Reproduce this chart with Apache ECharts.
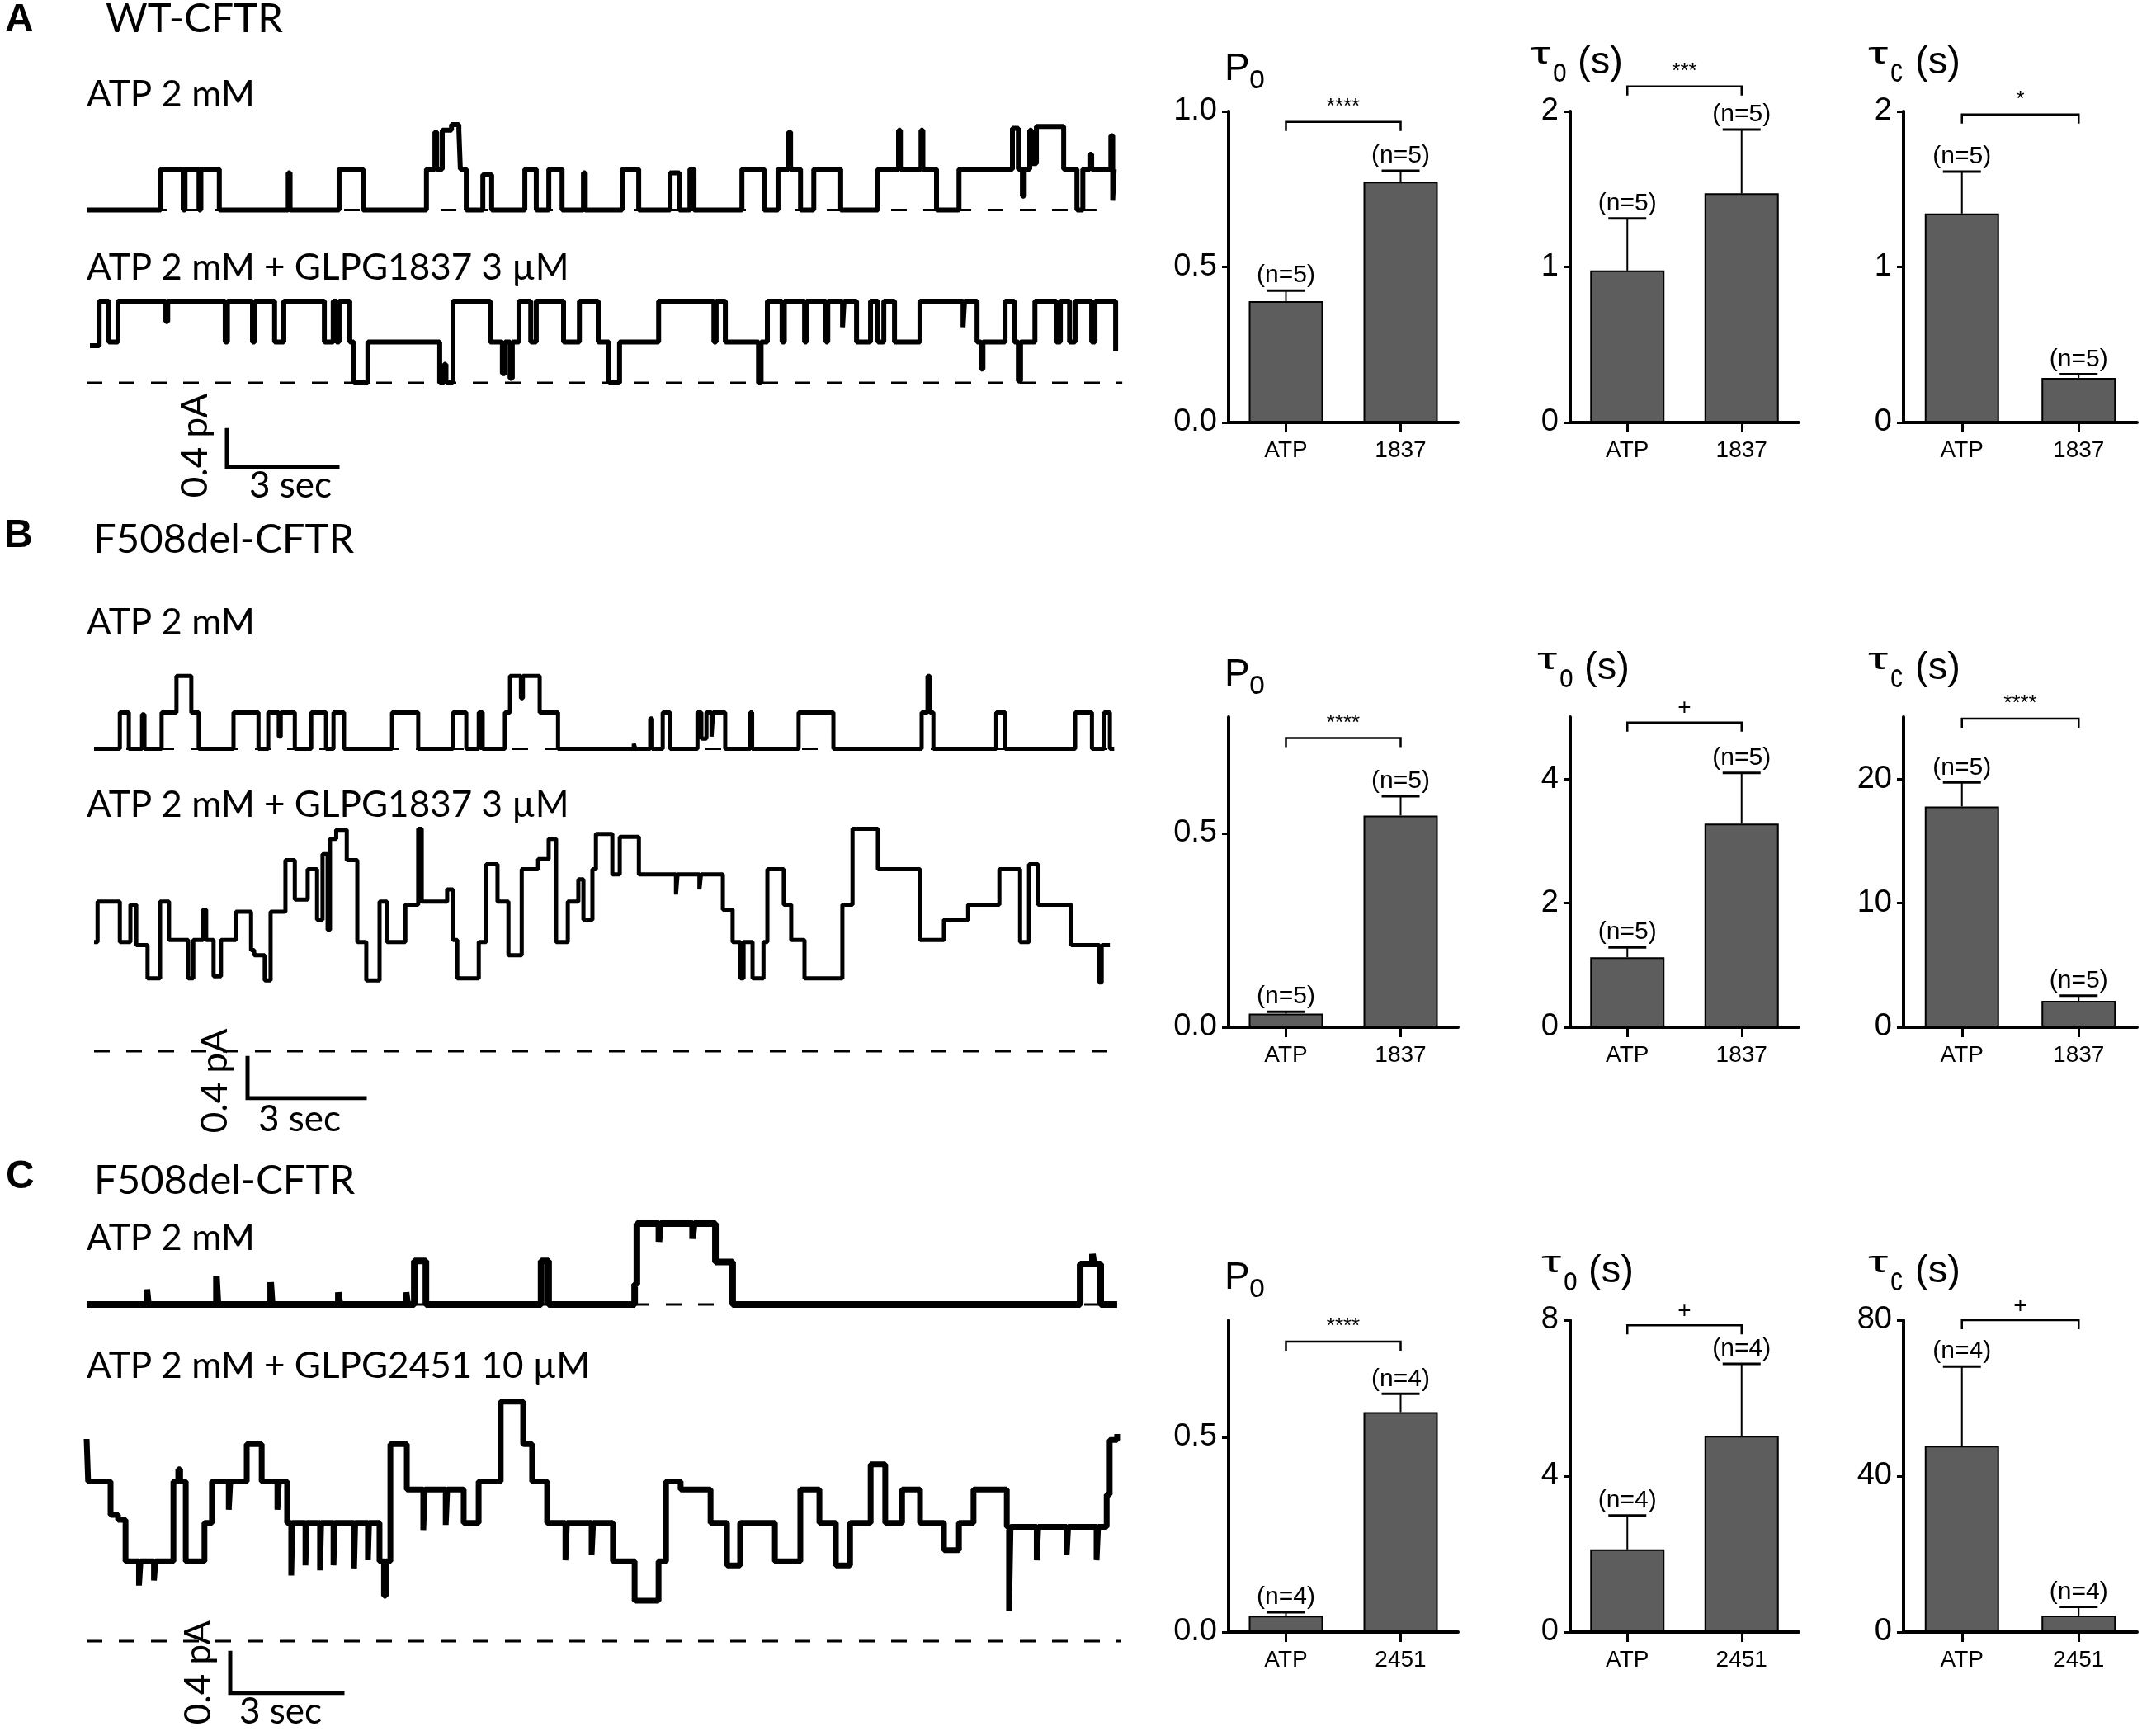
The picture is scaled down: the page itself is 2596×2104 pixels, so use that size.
<!DOCTYPE html>
<html><head><meta charset="utf-8">
<script src="https://cdn.jsdelivr.net/npm/echarts@6/dist/echarts.min.js"></script>
<style>html,body{margin:0;padding:0;background:#fff}#c{width:2596px;height:2104px}</style>
</head><body><div id="c"></div>
<script>
// ================= DATA =================
// Bar charts: categories
const catsA = ['ATP', '1837'];
const catsB = ['ATP', '1837'];
const catsC = ['ATP', '2451'];
// Row A (WT-CFTR)
const poA_mean = [0.390, 0.774], poA_err = [0.034, 0.035], nA = [5, 5];
const toA_mean = [0.977, 1.473], toA_err = [0.335, 0.410];
const tcA_mean = [1.343, 0.287], tcA_err = [0.270, 0.023];
// Row B (F508del, GLPG1837)
const poB_mean = [0.035, 0.546], poB_err = [0.005, 0.050], nB = [5, 5];
const toB_mean = [1.128, 3.280], toB_err = [0.160, 0.820];
const tcB_mean = [17.79, 2.12], tcB_err = [1.94, 0.43];
// Row C (F508del, GLPG2451)
const poC_mean = [0.042, 0.564], poC_err = [0.009, 0.047], nC = [4, 4];
const toC_mean = [2.12, 5.03], toC_err = [0.87, 1.85];
const tcC_mean = [47.8, 4.25], tcC_err = [20.3, 2.2];
// Significance marks and bracket levels (axis units)
const sigA = ['****', '***', '*'],  bracketA = [0.966, 2.16, 1.98];
const sigB = ['****', '+', '****'], bracketB = [0.746, 4.91, 24.86];
const sigC = ['****', '+', '+'],    bracketC = [0.745, 7.87, 80];
// Axis maxima and tick labels
const axMaxA = [1.0, 2, 2],  ticksA = [[0, 0.5, 1.0], [0, 1, 2], [0, 1, 2]];
const axMaxB = [0.8, 5, 25], ticksB = [[0, 0.5], [0, 2, 4], [0, 10, 20]];
const axMaxC = [0.8, 8, 80], ticksC = [[0, 0.5], [0, 4, 8], [0, 40, 80]];

// Current traces: [time (s), current above closed level (pA)], step changes
const traceA1 = [[0,0],[2.01,0.44],[2.62,0],[2.67,0.44],[3.05,0],[3.10,0.44],[3.60,0],[5.47,0.40],[5.52,0],[6.85,0.44],[7.50,0],[9.22,0.44],[9.45,0.84],[9.50,0.44],[9.65,0.86],[9.90,0.92],[10.10,0.86],[10.14,0.44],[10.30,0],[10.75,0.38],[10.99,0],[11.89,0.44],[12.20,0],[12.54,0.44],[12.90,0],[13.48,0.40],[13.53,0],[14.53,0.44],[14.98,0],[15.83,0.40],[16.08,0],[16.37,0.44],[16.48,0],[17.78,0.44],[18.38,0],[18.76,0.44],[19.05,0.84],[19.10,0.44],[19.37,0],[19.73,0.44],[20.46,0],[21.47,0.44],[22.03,0.86],[22.08,0.44],[22.64,0.86],[22.69,0.44],[23.06,0],[23.67,0.44],[25.12,0.88],[25.28,0.44],[25.39,0.15],[25.44,0.44],[25.59,0.86],[25.64,0.50],[25.77,0.90],[26.51,0.44],[26.87,0],[27.03,0.44],[27.22,0.60],[27.27,0.44],[27.79,0.80],[27.84,0.10],[27.88,0.44]];
const traceA2 = [[0.09,0.40],[0.34,0.88],[0.60,0.44],[0.85,0.88],[2.15,0.66],[2.20,0.88],[3.76,0.44],[3.82,0.88],[4.50,0.44],[4.56,0.88],[5.10,0.44],[5.35,0.88],[6.45,0.44],[6.69,0.88],[6.78,0.44],[6.85,0.88],[7.14,0.44],[7.25,0],[7.63,0.44],[9.58,0],[9.70,0.20],[9.75,0],[9.94,0.88],[10.95,0.44],[11.28,0.10],[11.35,0.44],[11.49,0.05],[11.55,0.44],[11.73,0.88],[12.05,0.44],[12.20,0.88],[12.94,0.44],[13.37,0.88],[13.88,0.44],[14.17,0],[14.46,0.44],[15.52,0.88],[17.02,0.44],[17.08,0.88],[17.33,0.44],[18.23,0],[18.30,0.44],[18.47,0.88],[18.87,0.44],[18.93,0.88],[19.48,0.44],[19.53,0.88],[20.06,0.44],[20.11,0.88],[20.51,0.60],[20.55,0.88],[20.89,0.44],[21.27,0.88],[21.47,0.44],[21.63,0.88],[21.92,0.44],[22.61,0.88],[23.78,0.60],[23.82,0.88],[24.16,0.44],[24.27,0.15],[24.32,0.44],[24.92,0.88],[25.17,0.44],[25.28,0.02],[25.34,0.44],[25.73,0.88],[26.31,0.44],[26.42,0.88],[26.67,0.44],[26.82,0.88],[27.27,0.44],[27.36,0.88],[27.92,0.34]];
const traceB1 = [[0,0],[0.66,0.36],[0.89,0],[1.23,0.34],[1.29,0],[1.73,0.36],[2.11,0.72],[2.49,0.36],[2.68,0],[3.57,0.36],[4.21,0],[4.46,0.36],[4.73,0.12],[4.78,0.36],[5.14,0],[5.56,0.36],[5.94,0],[6.13,0.36],[6.40,0],[7.63,0.36],[8.30,0],[9.19,0.36],[9.53,0],[9.85,0.36],[9.95,0],[10.52,0.36],[10.65,0.72],[10.93,0.50],[10.98,0.72],[11.41,0.36],[11.88,0],[13.82,0.05],[13.86,0],[14.24,0.30],[14.29,0],[14.56,0.36],[14.75,0],[15.45,0.36],[15.55,0.10],[15.68,0.36],[15.81,0.12],[15.85,0.36],[16.16,0],[16.80,0.36],[16.85,0],[18.04,0.36],[18.93,0],[21.19,0.36],[21.34,0.72],[21.40,0.36],[21.49,0],[23.10,0.36],[23.33,0],[25.12,0.36],[25.55,0],[25.86,0.36],[26.01,0],[26.12,0]];
const traceB2 = [[0,1.08],[0.09,1.48],[0.66,1.08],[0.93,1.45],[1.08,1.05],[1.37,0.72],[1.69,1.48],[1.92,1.10],[2.41,0.72],[2.54,1.10],[2.79,1.40],[2.87,1.10],[3.06,0.74],[3.25,1.10],[3.63,1.38],[4.02,1.00],[4.10,0.95],[4.37,0.70],[4.52,1.38],[4.90,1.89],[5.14,1.50],[5.47,1.80],[5.71,1.30],[5.85,1.95],[5.98,1.20],[6.04,2.10],[6.20,2.19],[6.47,1.89],[6.74,1.08],[6.97,0.70],[7.31,1.48],[7.50,1.08],[7.97,1.45],[8.30,2.20],[8.39,1.48],[9.04,1.60],[9.19,1.10],[9.30,0.72],[9.85,1.08],[10.04,1.85],[10.33,1.48],[10.61,0.95],[10.95,1.80],[11.37,1.90],[11.64,2.10],[11.83,1.08],[12.13,1.48],[12.40,1.70],[12.53,1.30],[12.76,1.80],[12.85,2.15],[13.27,1.75],[13.46,2.12],[13.95,1.75],[14.90,1.55],[14.94,1.75],[15.50,1.60],[15.54,1.75],[16.10,1.40],[16.35,1.08],[16.55,0.72],[16.63,1.08],[16.86,0.72],[17.14,1.08],[17.24,1.80],[17.66,1.45],[17.85,1.10],[18.19,0.72],[19.16,1.45],[19.42,2.20],[20.07,1.80],[21.15,1.10],[21.76,1.30],[22.38,1.45],[23.18,1.80],[23.71,1.08],[23.94,1.85],[24.17,1.45],[25.02,1.05],[25.74,0.68],[25.80,1.05],[26.01,1.05]];
const traceC1 = [[0,0],[1.61,0.15],[1.65,0],[3.47,0.28],[3.51,0],[4.92,0.22],[4.96,0],[6.73,0.12],[6.77,0],[8.54,0.12],[8.58,0],[8.76,0.43],[9.07,0],[12.15,0.43],[12.35,0],[14.65,0.20],[14.71,0.80],[15.30,0.62],[15.34,0.80],[16.20,0.65],[16.24,0.80],[16.81,0.42],[17.27,0],[26.56,0.40],[26.89,0.50],[26.93,0.40],[27.11,0],[27.55,0]];
const traceC2 = [[0,2.00],[0.04,1.58],[0.64,1.25],[0.84,1.20],[1.04,0.79],[1.40,0.55],[1.44,0.79],[1.80,0.60],[1.84,0.79],[2.27,0.79],[2.32,1.58],[2.45,1.70],[2.50,1.58],[2.65,0.79],[3.15,1.17],[3.35,1.58],[3.80,1.30],[3.84,1.58],[4.28,1.95],[4.68,1.58],[5.10,1.30],[5.14,1.58],[5.36,1.17],[5.47,0.65],[5.50,1.17],[5.85,0.75],[5.88,1.17],[6.24,0.70],[6.27,1.17],[6.60,0.75],[6.63,1.17],[7.15,0.72],[7.18,1.17],[7.52,0.80],[7.55,1.17],[7.83,0.79],[7.95,0.45],[8.00,0.79],[8.12,1.95],[8.56,1.50],[9.00,1.10],[9.04,1.50],[9.60,1.15],[9.64,1.50],[10.08,1.17],[10.48,1.58],[11.07,2.37],[11.67,1.95],[11.91,1.58],[12.31,1.17],[12.80,0.80],[12.84,1.17],[13.50,0.85],[13.54,1.17],[14.07,0.79],[14.65,0.40],[15.29,0.79],[15.49,1.58],[15.88,1.50],[16.68,1.17],[17.12,0.75],[17.47,1.17],[18.40,0.79],[19.08,1.50],[19.59,1.17],[20.03,0.75],[20.41,1.17],[20.96,1.75],[21.35,1.17],[21.80,1.50],[22.28,1.17],[22.92,0.90],[23.32,1.17],[23.71,1.50],[24.60,1.13],[24.66,0.30],[24.70,1.13],[25.40,0.80],[25.44,1.13],[26.20,0.85],[26.24,1.13],[27.00,0.80],[27.04,1.13],[27.27,1.45],[27.35,1.99],[27.55,2.05]];
// Dashed closed-level reference lines: [start, end] time (s)
const dashA1 = [0, 27.4], dashA2 = [0, 28.1];
const dashB1 = [0, 26.12], dashB2 = [0, 26.12];
const dashC1 = [0, 27.55], dashC2 = [0, 27.64];
// Scale bars
const scaleTime = 3;      // sec
const scaleCurrent = 0.4; // pA

// ================= LAYOUT / BUILD =================
const FL = 'Lato, "Open Sans", sans-serif';
const FR = '"Liberation Sans", Arial, sans-serif';
const grids = [], xAxes = [], yAxes = [], series = [], graphic = [];

function addTrace(left, closedY, pxSec, pxPA, T, yMin, yMax, data, dash, lw) {
  const i = grids.length;
  grids.push({left: left, top: closedY - yMax * pxPA, width: T * pxSec, height: (yMax - yMin) * pxPA});
  xAxes.push({type: 'value', gridIndex: i, min: 0, max: T, show: false, splitLine: {show: false}});
  yAxes.push({type: 'value', gridIndex: i, min: yMin, max: yMax, show: false, splitLine: {show: false}});
  series.push({type: 'line', xAxisIndex: i, yAxisIndex: i, data: dash.map(t => [t, 0]), showSymbol: false, silent: true, z: 1,
    lineStyle: {color: '#000', width: 3, type: [19, 20]}});
  series.push({type: 'line', xAxisIndex: i, yAxisIndex: i, data: data, step: 'end', showSymbol: false, silent: true, z: 2,
    lineStyle: {color: '#000', width: lw}});
}
function addScale(left, bottomY, pxSec, pxPA) {
  const i = grids.length;
  grids.push({left: left, top: bottomY - scaleCurrent * pxPA, width: scaleTime * pxSec, height: scaleCurrent * pxPA});
  xAxes.push({type: 'value', gridIndex: i, min: 0, max: scaleTime, show: false, splitLine: {show: false}});
  yAxes.push({type: 'value', gridIndex: i, min: 0, max: scaleCurrent, show: false, splitLine: {show: false}});
  series.push({type: 'line', xAxisIndex: i, yAxisIndex: i, data: [[0, scaleCurrent], [0, 0], [scaleTime, 0]],
    showSymbol: false, silent: true, lineStyle: {color: '#000', width: 5, cap: 'square', join: 'miter'}});
}
function addBars(left, width, top, height, cats, means, errs, ns, yMax, ticks, isPo, sig, bracketY) {
  const i = grids.length;
  grids.push({left: left, top: top, width: width, height: height});
  xAxes.push({type: 'category', gridIndex: i, data: cats, boundaryGap: true,
    axisLine: {show: true, lineStyle: {color: '#000', width: 4}},
    axisTick: {show: true, alignWithLabel: true, length: 12, lineStyle: {color: '#000', width: 3}},
    axisLabel: {color: '#000', fontFamily: FR, fontSize: 28, margin: 20}});
  const step = ticks[1] - ticks[0];
  yAxes.push({type: 'value', gridIndex: i, min: 0, max: yMax, interval: step,
    axisLine: {show: true, lineStyle: {color: '#000', width: 4}},
    axisTick: {show: true, length: 8, lineStyle: {color: '#000', width: 3}, customValues: ticks},
    axisLabel: {color: '#000', fontFamily: FR, fontSize: 38, margin: 14, customValues: ticks,
      formatter: v => (ticks.some(t => Math.abs(t - v) < 1e-9) ? (isPo ? v.toFixed(1) : String(v)) : '')},
    splitLine: {show: false}});
  series.push({type: 'bar', xAxisIndex: i, yAxisIndex: i, data: means, barWidth: 90, silent: true,
    itemStyle: {color: '#5d5d5d', borderColor: '#000', borderWidth: 2}});
  series.push({type: 'custom', xAxisIndex: i, yAxisIndex: i, clip: false, silent: true, z: 5,
    data: means.map((m, k) => [k, m, errs[k], ns[k]]),
    renderItem: function (params, api) {
      const k = api.value(0), m = api.value(1), e = api.value(2), n = api.value(3);
      const p0 = api.coord([k, m]), p1 = api.coord([k, m + e]);
      const kids = [
        {type: 'line', shape: {x1: p0[0], y1: p0[1], x2: p1[0], y2: p1[1]}, style: {stroke: '#000', lineWidth: 2}},
        {type: 'line', shape: {x1: p1[0] - 23, y1: p1[1], x2: p1[0] + 23, y2: p1[1]}, style: {stroke: '#000', lineWidth: 3}},
        {type: 'text', x: p1[0], y: p1[1] - 3, style: {text: '(n=' + n + ')', font: '30px ' + FR, fill: '#000', align: 'center', verticalAlign: 'bottom'}}
      ];
      if (params.dataIndex === 0) {
        const b0 = api.coord([0, bracketY]), b1 = api.coord([1, bracketY]);
        kids.push({type: 'polyline', shape: {points: [[b0[0], b0[1] + 11], [b0[0], b0[1]], [b1[0], b1[1]], [b1[0], b1[1] + 11]]},
          style: {stroke: '#000', lineWidth: 2.5, fill: null}});
        const star = sig.indexOf('*') >= 0;
        kids.push({type: 'text', x: (b0[0] + b1[0]) / 2, y: b0[1] - (star ? 18 : 17),
          style: {text: sig, font: (star ? '26px ' : '28px ') + FR, fill: '#000', align: 'center', verticalAlign: 'middle'}});
      }
      return {type: 'group', children: kids};
    }});
}
// text with baseline-based placement (middle offset ~0.35em for these fonts)
function txt(x, baseline, s, size, family, extra) {
  const fam = family || FL;
  const mid = baseline - size * (fam === FR ? 0.347 : 0.387);
  const el = {type: 'text', x: x, y: mid, silent: true,
    style: {text: s, font: size + 'px ' + fam, fill: '#000', align: 'left', verticalAlign: 'middle'}};
  graphic.push(Object.assign(el, extra || {}));
}
function panelLetter(x, baseline, s) {
  graphic.push({type: 'text', x: x, y: baseline - 48 * 0.347, silent: true,
    style: {text: s, font: 'bold 48px ' + FR, fill: '#000', align: 'left', verticalAlign: 'middle'}});
}
function vtext(cx, cy, s) {
  graphic.push({type: 'text', x: cx, y: cy, rotation: Math.PI / 2, silent: true,
    style: {text: s, font: '44px ' + FL, fill: '#000', align: 'center', verticalAlign: 'middle'}});
}
function titles(rowTop, toX) {
  txt(1484, rowTop - 35, 'P', 46, FR);
  txt(1514, rowTop - 25, 'o', 40, FR, {scaleX: 0.85});
  const tau = (x, sub) => {
    txt(x, rowTop - 55, 'τ', 37, FR, {scaleX: 1.65});
    txt(x + 27, rowTop - 33, sub, 40, FR, {scaleX: 0.75});
    txt(x + 57, rowTop - 43, '(s)', 47, FR);
  };
  tau(toX, 'o');
  tau(2264, 'c');
}

// ---- Row A ----
const sA = 134 / 3, aA = 45 / 0.4;
addTrace(105, 254.5, sA, aA, 28.1, -0.1, 1.0, traceA1, dashA1, 6);
addTrace(105, 464, sA, aA, 28.1, -0.1, 1.0, traceA2, dashA2, 6);
addScale(275, 566, sA, aA);
// ---- Row B ----
const sB = 142 / 3, aB = 49 / 0.4;
addTrace(114, 907.5, sB, aB, 26.2, -0.1, 0.8, traceB1, dashB1, 5);
addTrace(114, 1274, sB, aB, 26.2, -0.1, 2.4, traceB2, dashB2, 5);
addScale(300, 1331, sB, aB);
// ---- Row C ----
const sC = 136 / 3, aC = 49 / 0.4;
addTrace(105, 1581, sC, aC, 27.7, -0.1, 0.9, traceC1, dashC1, 8);
addTrace(105, 1989, sC, aC, 27.7, -0.1, 2.5, traceC2, dashC2, 7);
addScale(279, 2052, sC, aC);

// ---- Bar charts ----
const colL = [1489, 1903, 2307], colW = [278, 277, 283];
const rowTop = [135, 869, 1600], rowH = [377, 376, 378];
const rowsData = [
  [catsA, [poA_mean, toA_mean, tcA_mean], [poA_err, toA_err, tcA_err], nA, axMaxA, ticksA, sigA, bracketA],
  [catsB, [poB_mean, toB_mean, tcB_mean], [poB_err, toB_err, tcB_err], nB, axMaxB, ticksB, sigB, bracketB],
  [catsC, [poC_mean, toC_mean, tcC_mean], [poC_err, toC_err, tcC_err], nC, axMaxC, ticksC, sigC, bracketC]
];
rowsData.forEach((r, ri) => {
  for (let c = 0; c < 3; c++) {
    addBars(colL[c], colW[c], rowTop[ri], rowH[ri], r[0], r[1][c], r[2][c], r[3], r[4][c], r[5][c], c === 0, r[6][c], r[7][c]);
  }
});

// ---- Text ----
panelLetter(6, 41, 'A');
txt(128, 42, 'WT-CFTR', 49);
txt(105, 132, 'ATP 2 mM', 44);
txt(105, 342, 'ATP 2 mM + GLPG1837 3 µM', 44);
vtext(237, 540, '0.4 pA');
txt(302, 606, '3 sec', 44);

panelLetter(5, 666, 'B');
txt(113, 673, 'F508del-CFTR', 49);
txt(105, 772, 'ATP 2 mM', 44);
txt(105, 993, 'ATP 2 mM + GLPG1837 3 µM', 44);
vtext(261, 1310, '0.4 pA');
txt(313, 1374, '3 sec', 44);

panelLetter(7, 1443, 'C');
txt(114, 1450, 'F508del-CFTR', 49);
txt(105, 1518, 'ATP 2 mM', 44);
txt(105, 1673, 'ATP 2 mM + GLPG2451 10 µM', 44);
vtext(241, 2027, '0.4 pA');
txt(290, 2092, '3 sec', 44);

titles(rowTop[0], 1855);
titles(rowTop[1], 1863);
titles(rowTop[2], 1868);

const chart = echarts.init(document.getElementById('c'), null, {renderer: 'canvas'});
chart.setOption({animation: false, backgroundColor: '#fff', grid: grids, xAxis: xAxes, yAxis: yAxes, series: series, graphic: graphic});
</script></body></html>
